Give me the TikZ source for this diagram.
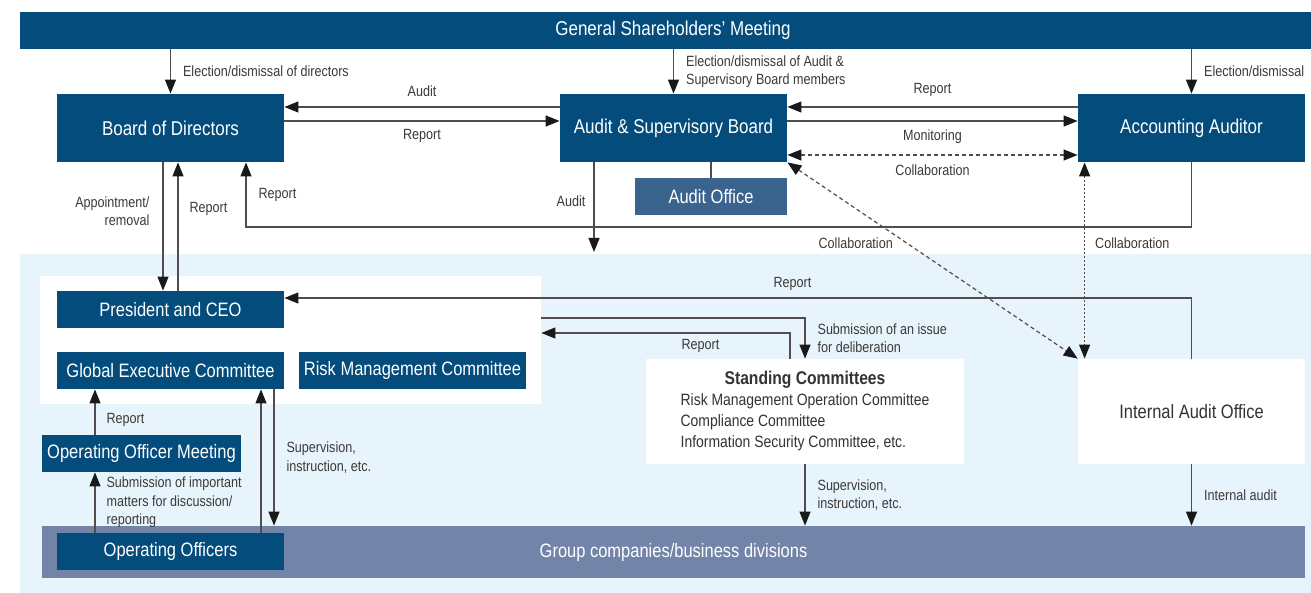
\documentclass[tikz,border=0pt]{standalone}
\usepackage{fontspec}
\setmainfont[FakeStretch=0.85]{Liberation Sans}
\usetikzlibrary{positioning,arrows.meta,calc}
\definecolor{navy}{RGB}{4,76,124}
\definecolor{officeblue}{RGB}{58,99,142}
\definecolor{groupblue}{RGB}{114,133,168}
\definecolor{panelblue}{RGB}{231,244,252}
\definecolor{linegray}{RGB}{84,76,76}
\definecolor{lblgray}{RGB}{60,56,56}
\newcommand{\lblfont}{\fontsize{7.4}{9.2}\selectfont}
\newcommand{\boxfont}{\fontsize{9.7}{11}\selectfont}
\tikzset{orgbox/.style={fill=navy, text=white, font=\boxfont, inner sep=0pt, minimum height=18.5pt, minimum width=113.5pt}}
\tikzset{tallbox/.style={orgbox, minimum height=34pt}}
\tikzset{whitebox/.style={fill=white, text=black!80, font=\boxfont, inner sep=0pt, minimum width=113.5pt, minimum height=52.5pt}}
\tikzset{lbl/.style={font=\lblfont, text=lblgray, inner sep=1.5pt, align=left}}
\tikzset{link/.style={draw=linegray, line width=0.6pt}}
\tikzset{arr/.style={link, ->}}
\tikzset{dasharr/.style={link, <->, dash pattern=on 2pt off 1.5pt}}
\tikzset{dotarr/.style={link, <->, dash pattern=on 1pt off 1pt}}

\begin{document}
\begin{tikzpicture}[x=0.5pt, y=-0.5pt, >={Triangle[length=7pt,width=5.5pt,color=black!90]}]
	\useasboundingbox (0,0) rectangle (1311,593);
	\fill[panelblue] (20,254) rectangle (1311,593);

	\node[orgbox, minimum width=653pt, font=\fontsize{10}{11}\selectfont] (gsm) at (673,30.5) {General Shareholders' Meeting};
	\node[tallbox, font=\fontsize{10}{11}\selectfont] (bod) at (170.5,128) {Board of Directors};
	\node[tallbox, font=\fontsize{10}{11}\selectfont] (asb) at (673.5,128) {Audit \& Supervisory Board};
	\node[tallbox, font=\fontsize{10}{11}\selectfont] (acc) at (1191.5,128) {Accounting Auditor};
	\node[orgbox, fill=officeblue, minimum width=76pt] (office) at (711,196.5) {Audit Office};

	\node[fill=white, inner sep=0pt, minimum width=250.5pt, minimum height=64pt] (exec) at (290.5,340) {};
	\node[orgbox] (ceo) at (170.5,309.5) {President and CEO};
	\node[orgbox] (gec) at (170.5,370.5) {Global Executive Committee};
	\node[orgbox] (rmc) at (412.5,370.5) {Risk Management Committee};
	\node[orgbox, minimum width=99.5pt] (oom) at (141.5,453.5) {Operating Officer Meeting};
	\node[whitebox, minimum width=159pt] (sc) at (805,411.5) {\raisebox{-1.6pt}{%
		\begin{tabular}{@{}l@{}}
		\multicolumn{1}{@{}c@{}}{\fontsize{9.2}{11}\selectfont\bfseries Standing Committees}\\[-0.6pt]
		\fontsize{8.2}{10}\selectfont Risk Management Operation Committee\\[-0.6pt]
		\fontsize{8.2}{10}\selectfont Compliance Committee\\[-0.6pt]
		\fontsize{8.2}{10}\selectfont Information Security Committee, etc.
		\end{tabular}}};
	\node[whitebox] (iao) at (1191.5,411.5) {Internal Audit Office};
	\node[orgbox, fill=groupblue, minimum width=631.5pt, minimum height=26pt] (group) at (673.5,552) {Group companies/business divisions};
	\node[orgbox] (oo) at (170.5,551.5) {Operating Officers};

	% shareholders' meeting
	\draw[arr] (bod.north |- gsm.south) -- node[lbl, right=4.5pt]{Election/dismissal of directors} (bod.north);
	\draw[arr] (asb.north |- gsm.south) -- node[lbl, right=4.5pt]{Election/dismissal of Audit \&\\Supervisory Board members} (asb.north);
	\draw[arr] (acc.north |- gsm.south) -- node[lbl, right=4.5pt]{Election/dismissal} (acc.north);

	% board level
	\draw[arr] ([yshift=10.5pt]asb.west) -- node[lbl, above=3.5pt]{Audit} ([yshift=10.5pt]bod.east);
	\draw[arr] ([yshift=3.5pt]bod.east) -- node[lbl, below=2.5pt]{Report} ([yshift=3.5pt]asb.west);
	\draw[arr] ([yshift=10.5pt]acc.west) -- node[lbl, above=3.5pt]{Report} ([yshift=10.5pt]asb.east);
	\draw[arr] ([yshift=3.5pt]asb.east) -- node[lbl, below=2.5pt]{Monitoring} ([yshift=3.5pt]acc.west);
	\draw[dasharr] ([yshift=-13.5pt]asb.east) -- node[lbl, below=3pt]{Collaboration} ([yshift=-13.5pt]acc.west);
	\draw[link] (office.north) -- (office.north |- asb.south);

	\coordinate (rep) at (246,227);
	\coordinate (aud) at (594,252);
	\draw[arr] (acc.south) |- (rep) -- node[lbl, right=4.5pt]{Report} (rep |- bod.south);
	\draw[arr] (aud |- asb.south) -- node[lbl, left=2.5pt, pos=0.43]{Audit} (aud);
	\draw[arr] ([xshift=-3.75pt]bod.south) -- node[lbl, left=5pt, pos=0.38, align=right]{Appointment/\\removal} ([xshift=-3.75pt]ceo.north);
	\draw[arr] ([xshift=3.75pt]ceo.north) -- node[lbl, right=4pt, pos=0.64]{Report} ([xshift=3.75pt]bod.south);

	% collaboration
	\draw[dotarr] ([xshift=3.5pt]acc.south west) -- node[lbl, right=3.5pt, pos=0.41]{Collaboration} ([xshift=3.5pt]iao.north west);
	\draw[dasharr] (asb.south east) -- node[lbl, left=5pt, pos=0.41]{Collaboration} (iao.north west);

	% execution level
	\draw[arr] (iao.north) |- node[lbl, above=2pt, pos=0.72]{Report} ([yshift=5.75pt]ceo.east);
	\draw[arr] ([yshift=11pt]exec.east) -| node[lbl, right=4.5pt, pos=0.75]{Submission of an issue\\for deliberation} (sc.north);
	\draw[arr] ([xshift=-7.5pt]sc.north) |- node[lbl, below=1.5pt, pos=0.68]{Report} ([yshift=3.5pt]exec.east);
	\draw[arr] (sc.south) -- node[lbl, right=4.5pt]{Supervision,\\instruction, etc.} (sc.south |- group.north);
	\draw[arr] (iao.south) -- node[lbl, right=4.5pt]{Internal audit} (iao.south |- group.north);

	\draw[arr] ([xshift=-23.25pt]oom.north) -- node[lbl, right=4pt, pos=0.33]{Report} ([xshift=-23.25pt]oom.north |- gec.south);
	\draw[arr] ([xshift=-37.75pt]oo.north) -- node[lbl, right=4pt]{Submission of important\\matters for discussion/\\reporting} ([xshift=-37.75pt]oo.north |- oom.south);
	\draw[arr] ([xshift=45.25pt]oo.north) -- ([xshift=45.25pt]oo.north |- gec.south);
	\draw[arr] ([xshift=51.75pt]gec.south) -- node[lbl, right=4.5pt]{Supervision,\\instruction, etc.} ([xshift=51.75pt]gec.south |- group.north);
\end{tikzpicture}
\end{document}
